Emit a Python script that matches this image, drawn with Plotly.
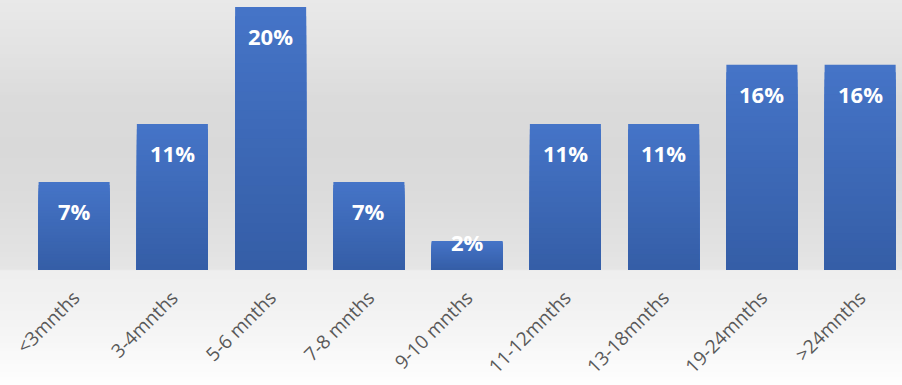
import plotly.graph_objects as go

# Share of respondents by duration
categories = ["<3mnths", "3-4mnths", "5-6 mnths", "7-8 mnths", "9-10 mnths",
              "11-12mnths", "13-18mnths", "19-24mnths", ">24mnths"]
percent = [6.7, 11.1, 20.0, 6.7, 2.2, 11.1, 11.1, 15.6, 15.6]

W, H = 902, 385
M_L, M_R, M_T, M_B = 25, 0, 0, 115
Y_TOP = 20.53

fig = go.Figure()

# Vertical gradient inside each bar: overlaid bars of decreasing height,
# each one painted with the colour of its own top band.
top_rgb = (69, 116, 199)
bot_rgb = (53, 94, 167)
N = 28
for k in range(N):
    t = k / (N - 1)
    c = tuple(round(top_rgb[i] + (bot_rgb[i] - top_rgb[i]) * t) for i in range(3))
    frac = (N - k) / N
    fig.add_trace(go.Bar(
        x=categories,
        y=[v * frac for v in percent],
        marker=dict(color="rgb(%d,%d,%d)" % c, line=dict(width=0)),
        hoverinfo="skip",
        showlegend=False,
    ))

# Value labels near the top of each bar
for cat, v in zip(categories, percent):
    fig.add_annotation(
        x=cat, y=v, xref="x", yref="y",
        text="%.0f%%" % v,
        showarrow=False,
        yanchor="middle",
        yshift=-29 if v >= 5 else -1,
        font=dict(family="Open Sans", size=22, color="white", weight="bold"),
    )

# Background: soft grey gradient behind the plot, fading to white below
plot_h = H - M_T - M_B
def py(px):
    # convert a pixel row to paper y
    return 1 - (px - M_T) / plot_h

stops = [(0, 233), (50, 227), (100, 219), (150, 217), (200, 220),
         (240, 225), (270, 229), (271, 239), (300, 241), (340, 246), (385, 254)]
shapes = []
for (p0, g0), (p1, g1) in zip(stops[:-1], stops[1:]):
    steps = max(1, (p1 - p0) // 4)
    for s in range(steps):
        a = p0 + (p1 - p0) * s / steps
        b = p0 + (p1 - p0) * (s + 1) / steps
        g = round(g0 + (g1 - g0) * (s + 0.5) / steps)
        shapes.append(dict(
            type="rect", xref="paper", yref="paper",
            x0=-M_L / (W - M_L - M_R) - 0.01, x1=1.01,
            y0=py(b) - 0.002, y1=py(a) + 0.002,
            fillcolor="rgb(%d,%d,%d)" % (g, g, g),
            line=dict(width=0), layer="below",
        ))

fig.update_layout(
    width=W, height=H,
    margin=dict(l=M_L, r=M_R, t=M_T, b=M_B),
    barmode="overlay",
    bargap=0.277,
    paper_bgcolor="white",
    plot_bgcolor="rgba(0,0,0,0)",
    shapes=shapes,
    showlegend=False,
    xaxis=dict(
        range=[-0.5, 8.426],
        tickangle=-45,
        tickfont=dict(family="Open Sans", size=19, color="#595959"),
        showgrid=False, zeroline=False, showline=False, ticks="",
        ticklabelstandoff=12,
    ),
    yaxis=dict(
        range=[0, Y_TOP],
        visible=False,
        showgrid=False, zeroline=False,
    ),
)

fig.write_html("out.html")
